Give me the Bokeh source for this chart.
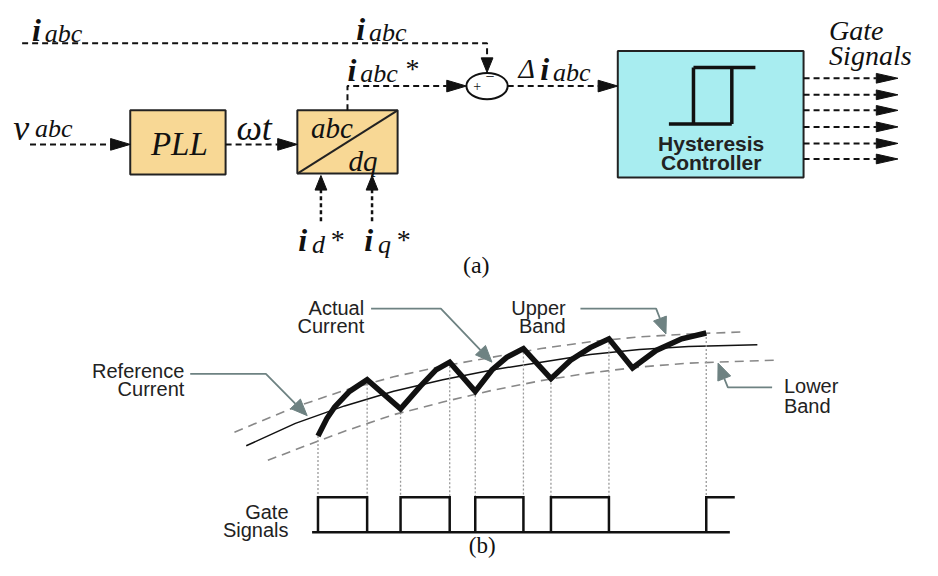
import math
from bokeh.plotting import figure
from bokeh.models import Range1d
from bokeh.core.properties import value
from bokeh.embed import file_html
from bokeh.resources import INLINE

# ---------------- data: part (b) waveforms ----------------
ref_x = [250, 300, 350, 400, 450, 500, 550, 600, 650, 700, 770]
ref_y = [458, 435, 417, 402, 390, 380, 372, 364, 359, 356, 354]
upper_x = [238, 300, 350, 400, 450, 500, 550, 600, 650, 700, 753]
upper_y = [444, 418, 401, 387, 376, 367, 358, 351, 346, 343, 341]
lower_x = [272, 300, 350, 400, 450, 500, 550, 600, 650, 700, 787]
lower_y = [473, 462, 443, 426, 413, 401, 391, 383, 377, 373, 370]
actual_x = [323, 332, 340, 355, 373, 407, 427, 443, 457, 483, 500, 515, 532,
            560, 580, 600, 619, 643, 667, 693, 718]
actual_y = [448, 430, 418, 402, 390, 420, 397, 380, 372, 402, 380, 367, 358,
            389, 370, 357, 348, 378, 360, 348, 342]
rise_t = [323, 407, 483, 560, 718]
fall_t = [373, 457, 532, 619]
gate_low, gate_high = 547, 511
gate_start, gate_end, gate_last_high = 317, 742, 747
gate_out_y = [80, 97, 113, 130, 147, 163]

W, H = 938, 576
p = figure(width=922, height=560, x_range=Range1d(0, W), y_range=Range1d(H, 0),
           output_backend="svg", toolbar_location=None,
           x_axis_type=None, y_axis_type=None, min_border=0,
           outline_line_color=None, background_fill_color="white",
           border_fill_color="white")
p.grid.visible = False

BLACK = "#111111"
GRAY = "#6E8282"
SERIF = "Liberation Serif"
SANS = "Liberation Sans"
DY = -6  # baseline correction

black_heads = []
gray_heads = []


def head(tip, frm, length, hw, store):
    dx, dy = tip[0] - frm[0], tip[1] - frm[1]
    L = math.hypot(dx, dy)
    ux, uy = dx / L, dy / L
    bx, by = tip[0] - ux * length, tip[1] - uy * length
    px, py = -uy, ux
    store.append(([tip[0], bx + px * hw, bx - px * hw],
                  [tip[1], by + py * hw, by - py * hw]))
    return (bx, by)


def dashed_arrow(points, length=20, hw=6, dash="6 4", width=2):
    base = head(points[-1], points[-2], length, hw, black_heads)
    xs = [pt[0] for pt in points[:-1]] + [base[0]]
    ys = [pt[1] for pt in points[:-1]] + [base[1]]
    p.line(xs, ys, line_color=BLACK, line_width=width, line_dash=dash)


def leader(points, length=17, hw=7):
    base = head(points[-1], points[-2], length, hw, gray_heads)
    xs = [pt[0] for pt in points[:-1]] + [base[0]]
    ys = [pt[1] for pt in points[:-1]] + [base[1]]
    p.line(xs, ys, line_color=GRAY, line_width=1.8)


def txt(s, x, y, size, style="normal", font=SERIF, align="left", color=BLACK):
    p.text([x], [y + DY], text=[s], text_font=value(font), text_font_size=f"{size}px",
           text_font_style=style, text_align=align, text_baseline="alphabetic",
           text_color=color)


# ---------------- part (a) ----------------
p.quad(left=[132, 302], right=[229, 404], top=[113, 113], bottom=[179, 178],
       fill_color="#F8D895", line_color="#222222", line_width=2)
p.line([302, 404], [178, 113], line_color="#222222", line_width=2)
p.quad(left=[628], right=[817], top=[52], bottom=[182],
       fill_color="#A8EDF0", line_color="#222222", line_width=2)
p.multi_line(xs=[[680, 744], [705, 705], [705, 768], [744, 744]],
             ys=[[127, 127], [127, 69], [69, 69], [69, 127]],
             line_color=BLACK, line_width=3.5)

dashed_arrow([(22, 44), (495, 44), (495, 74)], length=15, hw=6)
dashed_arrow([(30, 148), (132, 148)])
dashed_arrow([(229, 148), (302, 148)])
dashed_arrow([(353, 113), (353, 88), (474, 88)])
dashed_arrow([(516, 88), (628, 88)])
for gy in gate_out_y:
    dashed_arrow([(817, gy), (913, gy)], length=22, hw=5)
dashed_arrow([(326, 227), (326, 180)], length=15, hw=6, dash="4 3", width=2.5)
dashed_arrow([(378, 227), (378, 180)], length=15, hw=6, dash="4 3", width=2.5)

p.ellipse(x=[495], y=[88], width=[42], height=[27], fill_color="white",
          line_color=BLACK, line_width=2)
txt("+", 485, 94, 14, align="center")
txt("\u2212", 498, 84, 16, align="center")

txt("i", 32, 36, 32, "bold italic")
txt("abc", 45, 40, 26, "italic")
txt("i", 362, 35, 32, "bold italic")
txt("abc", 375, 39, 26, "italic")
txt("i", 353, 77, 32, "bold italic")
txt("abc", 366, 81, 26, "italic")
txt("*", 412, 76, 28)
txt("v", 13, 137, 36, "italic")
txt("abc", 35, 138, 26, "italic")
txt("\u03c9t", 240, 137, 36, "italic")
txt("PLL", 182, 154, 33, "italic", align="center")
txt("abc", 316, 137, 29, "italic")
txt("dq", 354, 171, 29, "italic")
txt("i", 303, 252, 32, "bold italic")
txt("d", 317, 257, 26, "italic")
txt("*", 336, 252, 28)
txt("i", 370, 252, 32, "bold italic")
txt("q", 384, 257, 26, "italic")
txt("*", 403, 252, 28)
txt("\u0394", 527, 76, 28, "italic")
txt("i", 549, 76, 32, "bold italic")
txt("abc", 562, 80, 26, "italic")
txt("Gate", 843, 37, 28, "italic")
txt("Signals", 843, 63, 28, "italic")
txt("Hysteresis", 723, 153, 21, "bold", font=SANS, align="center", color="#222222")
txt("Controller", 723, 173, 21, "bold", font=SANS, align="center", color="#222222")
txt("(a)", 484, 278, 24, align="center")

# ---------------- part (b) ----------------
p.line(upper_x, upper_y, line_color="#888888", line_width=1.6, line_dash="9 6")
p.line(lower_x, lower_y, line_color="#888888", line_width=1.6, line_dash="9 6")
p.line(ref_x, ref_y, line_color=BLACK, line_width=1.5)

sw = sorted(rise_t + fall_t)
dx_list, dy_list = [], []
for t in sw:
    yv = actual_y[actual_x.index(t)]
    dx_list.append([t, t])
    dy_list.append([yv, gate_high])
p.multi_line(xs=dx_list, ys=dy_list, line_color="#9A9A9A", line_width=1.3,
             line_dash="2 2")

p.line(actual_x, actual_y, line_color=BLACK, line_width=5.5,
       line_join="miter", line_cap="butt")

p.line([gate_start, gate_end], [gate_low, gate_low], line_color=BLACK, line_width=2.5)
pxs, pys = [], []
for i, r in enumerate(rise_t):
    if i < len(fall_t):
        f = fall_t[i]
        pxs.append([r, r, f, f])
        pys.append([gate_low, gate_high, gate_high, gate_low])
    else:
        pxs.append([r, r, gate_last_high])
        pys.append([gate_low, gate_high, gate_high])
p.multi_line(xs=pxs, ys=pys, line_color=BLACK, line_width=2.5, line_join="miter")

leader([(377, 317), (448, 317), (500, 372)])
leader([(193, 384), (270, 384), (312, 427)])
leader([(590, 317), (667, 317), (677, 343)])
leader([(785, 398), (740, 398), (730, 373)])

LAB = "#222222"
SZ = 20
txt("Actual", 370, 322, SZ, font=SANS, align="right", color=LAB)
txt("Current", 370, 341, SZ, font=SANS, align="right", color=LAB)
txt("Reference", 187, 387, SZ, font=SANS, align="right", color=LAB)
txt("Current", 187, 406, SZ, font=SANS, align="right", color=LAB)
txt("Upper", 575, 322, SZ, font=SANS, align="right", color=LAB)
txt("Band", 575, 341, SZ, font=SANS, align="right", color=LAB)
txt("Lower", 797, 403, SZ, font=SANS, align="left", color=LAB)
txt("Band", 797, 423, SZ, font=SANS, align="left", color=LAB)
txt("Gate", 293, 532, SZ, font=SANS, align="right", color=LAB)
txt("Signals", 293, 551, SZ, font=SANS, align="right", color=LAB)
txt("(b)", 490, 567, 23, align="center")

p.patches(xs=[h[0] for h in black_heads], ys=[h[1] for h in black_heads],
          fill_color=BLACK, line_color=BLACK, line_width=1)
p.patches(xs=[h[0] for h in gray_heads], ys=[h[1] for h in gray_heads],
          fill_color=GRAY, line_color=GRAY, line_width=1)

open("out.html", "w").write(file_html(p, INLINE))
